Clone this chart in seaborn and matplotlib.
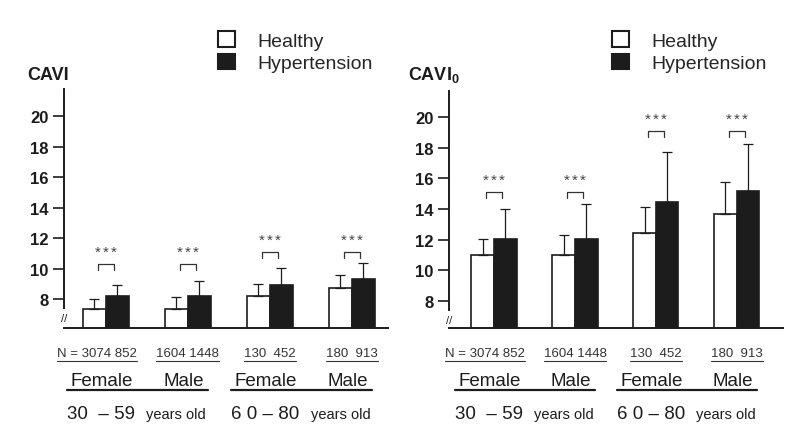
import numpy as np
import pandas as pd
import matplotlib
matplotlib.use("Agg")
import matplotlib.pyplot as plt
import seaborn as sns
from matplotlib import transforms
from matplotlib.lines import Line2D
from matplotlib.patches import Patch

# values
groups = ["F 30-59", "M 30-59", "F 60-80", "M 60-80"]
status = ["Healthy", "Hypertension"]

cavi_healthy = [7.35, 7.35, 8.2, 8.75]
cavi_healthy_sd = [0.65, 0.8, 0.8, 0.8]
cavi_hyper = [8.2, 8.2, 8.95, 9.3]
cavi_hyper_sd = [0.7, 1.0, 1.1, 1.05]

cavi0_healthy = [11.0, 11.0, 12.45, 13.65]
cavi0_healthy_sd = [1.05, 1.3, 1.7, 2.1]
cavi0_hyper = [12.05, 12.05, 14.45, 15.15]
cavi0_hyper_sd = [1.95, 2.3, 3.25, 3.1]

# significance bracket levels
cavi_bracket = [10.3, 10.3, 11.1, 11.1]
cavi0_bracket = [15.1, 15.1, 19.1, 19.1]
sig_label = "***"

n_labels = ["N = 3074 852", "1604 1448", "130  452", "180  913"]
sex_labels = ["Female", "Male", "Female", "Male"]
age_labels = ["30  \u2013 59", "6 0 \u2013 80"]
age_unit = "years old"
yticks = [8, 10, 12, 14, 16, 18, 20]

sns.set_theme(style="white")
plt.rcParams["font.family"] = ["Liberation Sans", "DejaVu Sans"]
plt.rcParams["mathtext.fontset"] = "custom"
plt.rcParams["mathtext.rm"] = "Liberation Sans:bold"
plt.rcParams["mathtext.default"] = "rm"

ink = "#1c1c1c"
palette = {"Healthy": "white", "Hypertension": ink}

fig = plt.figure(figsize=(8, 4.31), dpi=100)
ax1 = fig.add_axes([0.08, 0.2367, 0.405, 0.5545])
ax2 = fig.add_axes([0.561, 0.2367, 0.4175, 0.55])


def draw_panel(ax, healthy, healthy_sd, hyper, hyper_sd, brackets, ylim, xlim, title, title_x, legend_x):
    df = pd.DataFrame({
        "group": groups * 2,
        "status": [status[0]] * 4 + [status[1]] * 4,
        "value": healthy + hyper,
    })
    sns.barplot(data=df, x="group", y="value", hue="status", order=groups,
                hue_order=status, palette=palette, edgecolor=ink, linewidth=1.2,
                width=0.56, gap=0, errorbar=None, legend=False, ax=ax)

    # upper-only error bars
    for cont, sd in zip(ax.containers, [healthy_sd, hyper_sd]):
        xs = [b.get_x() + b.get_width() / 2 for b in cont]
        ys = [b.get_height() for b in cont]
        ax.errorbar(xs, ys, yerr=[np.zeros(len(sd)), sd], fmt="none",
                    ecolor=ink, elinewidth=0.9, capsize=3.5, capthick=0.9)

    # brackets + spaced stars
    for i, lvl in enumerate(brackets):
        ax.plot([i - 0.1, i - 0.1, i + 0.1, i + 0.1], [lvl - 0.4, lvl, lvl, lvl - 0.4],
                color="#333333", lw=0.9)
        for j, ch in enumerate(sig_label):
            ax.text(i + (j - 1) * 0.1, lvl + 0.8, ch, ha="center", va="center",
                    fontsize=11, color="#444444")

    ax.set_ylim(*ylim)
    ax.set_xlim(*xlim)
    ax.set_xlabel("")
    ax.set_ylabel("")
    ax.set_xticks([])
    ax.set_yticks(yticks)
    ax.set_yticklabels([str(t) for t in yticks], fontsize=12, fontweight="bold", color=ink)
    ax.tick_params(axis="y", length=8, width=1.2, color=ink, pad=3, left=True)
    sns.despine(ax=ax)
    ax.spines["left"].set_bounds(7.4, ylim[1])
    for s in ["left", "bottom"]:
        ax.spines[s].set_linewidth(1.4)
        ax.spines[s].set_color(ink)
    ax.text(0, 6.75, "//", transform=transforms.blended_transform_factory(ax.transAxes, ax.transData),
            ha="center", va="center", fontsize=8, color=ink)

    fig.text(title_x, 1 - 80 / 431, title, ha="left", va="baseline",
             fontsize=13, fontweight="bold", color=ink)

    handles = [Patch(facecolor=palette[s], edgecolor=ink, linewidth=1.5) for s in status]
    ax.legend(handles, status, loc="upper left", bbox_to_anchor=(legend_x, 0.925),
              bbox_transform=fig.transFigure, frameon=False, fontsize=14,
              handlelength=0.85, handleheight=0.85, handletextpad=1.2,
              labelspacing=0.2, borderpad=0, borderaxespad=0)

    # labels under the axis
    trans = transforms.blended_transform_factory(ax.transData, fig.transFigure)
    n_texts = []
    for i, lab in enumerate(n_labels):
        x = i + 0.38 if i == 0 else i
        ha = "right" if i == 0 else "center"
        n_texts.append(ax.text(x, 1 - 354 / 431, lab, transform=trans, ha=ha, va="center",
                               fontsize=9.5, color="#333333"))
    sex_texts = []
    for i, lab in enumerate(sex_labels):
        sex_texts.append(ax.text(i - 0.05, 1 - 382 / 431, lab, transform=trans,
                                 ha="center", va="center", fontsize=13.5, color=ink))
    for k, lab in enumerate(age_labels):
        ax.text(2 * k - 0.06, 1 - 415 / 431, lab, transform=trans,
                ha="center", va="center", fontsize=13.5, color=ink)
        ax.text(2 * k + 1 - 0.14, 1 - 415 / 431, age_unit, transform=trans,
                ha="center", va="center", fontsize=10.5, color=ink)
    return n_texts, sex_texts


n1, s1 = draw_panel(ax1, cavi_healthy, cavi_healthy_sd, cavi_hyper, cavi_hyper_sd,
                    cavi_bracket, (6.1, 21.8), (-0.51, 3.44), "CAVI", 27 / 800, 218 / 800)
n2, s2 = draw_panel(ax2, cavi0_healthy, cavi0_healthy_sd, cavi0_hyper, cavi0_hyper_sd,
                    cavi0_bracket, (6.24, 21.7), (-0.56, 3.57), r"CAVI$_0$", 408 / 800, 612 / 800)

# underlines
fig.canvas.draw()
W, H = fig.bbox.width, fig.bbox.height
for t in n1 + n2:
    bb = t.get_window_extent()
    fig.add_artist(Line2D([bb.x0 / W, bb.x1 / W], [1 - 362 / 431] * 2,
                          transform=fig.transFigure, color="#333333", lw=0.8))
for texts in (s1, s2):
    for a, b in [(texts[0], texts[1]), (texts[2], texts[3])]:
        x0 = a.get_window_extent().x0 - 4
        x1 = b.get_window_extent().x1 + 4
        fig.add_artist(Line2D([x0 / W, x1 / W], [1 - 391 / 431] * 2,
                              transform=fig.transFigure, color=ink, lw=1.6))

fig.savefig("out.png", dpi=100)
